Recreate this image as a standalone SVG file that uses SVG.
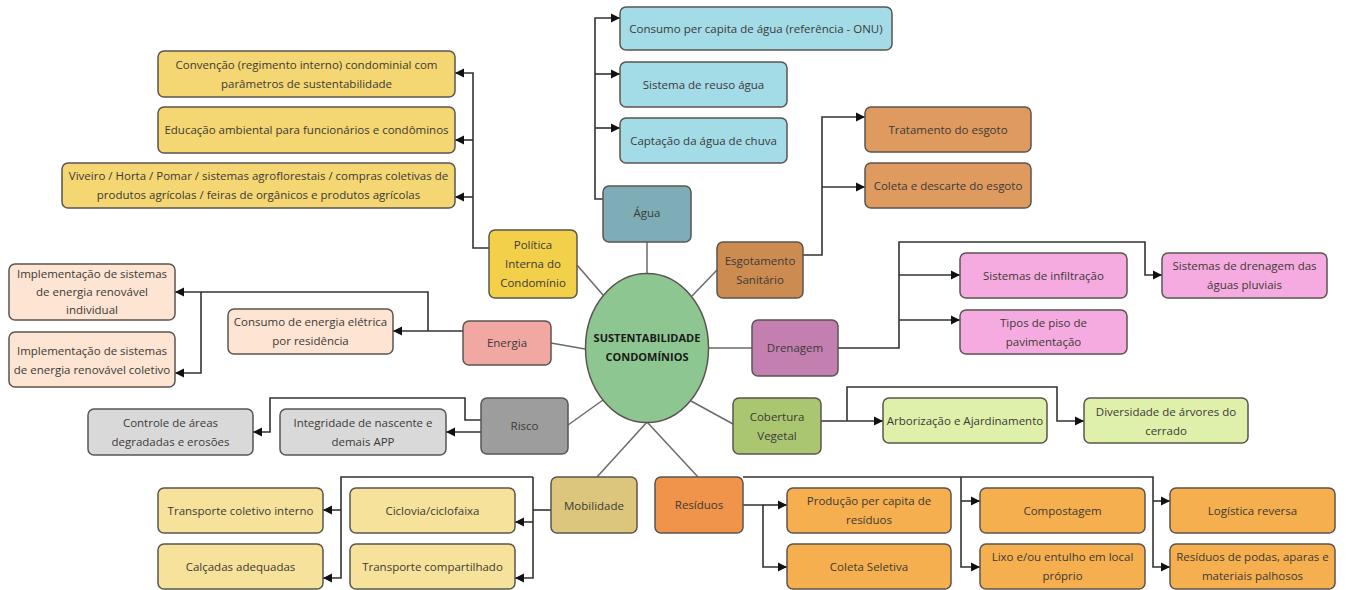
<svg xmlns="http://www.w3.org/2000/svg" width="1346" height="590" viewBox="0 0 1346 590">
<style>
rect{stroke:#5a5550;stroke-width:1.5}
text{font-family:"Open Sans","Liberation Sans",sans-serif;font-size:11.5px;fill:#3c3a36;text-anchor:middle}
.c{fill:none;stroke:#333;stroke-width:1.6}
.s{fill:none;stroke:#6a6a6a;stroke-width:1.5}
.agua{fill:#7eacb7}.aguaC{fill:#a3dbe7}
.pol{fill:#f2d04a}.polC{fill:#f4d672}
.esg{fill:#cc8b51}.esgC{fill:#df9a5f}
.dre{fill:#c47fb1}.dreC{fill:#f5abdf}
.ene{fill:#f1a8a2}.eneC{fill:#fde4d3}
.ris{fill:#9d9d9d}.risC{fill:#d9d9d9}
.mob{fill:#dbc67c}.mobC{fill:#f7e29c}
.res{fill:#f0934b}.resC{fill:#f5af4e}
.cob{fill:#aac671}.cobC{fill:#dff0ab}
</style>
<defs>
<marker id="a" markerUnits="userSpaceOnUse" markerWidth="10" markerHeight="10" refX="9" refY="5" orient="auto">
<path d="M0,0.5 L9,5 L0,9.5 z" fill="#111"/>
</marker>
</defs>
<g id="connectors">
<path class="s" d="M647,242 V273"/>
<path class="s" d="M577,265 L603,295"/>
<path class="s" d="M717,270 L692,296"/>
<path class="s" d="M551,343 L585,349"/>
<path class="s" d="M708,348 H752"/>
<path class="s" d="M568,425 L603,400"/>
<path class="s" d="M733,424 L691,401"/>
<path class="s" d="M597,477 L647,422"/>
<path class="s" d="M698,477 L647,422"/>
<path class="c" d="M603,199 H595 V18 H620" marker-end="url(#a)"/>
<path class="c" d="M595,74 H620" marker-end="url(#a)"/>
<path class="c" d="M595,128 H620" marker-end="url(#a)"/>
<path class="c" d="M489,248 H473 V73 H455" marker-end="url(#a)"/>
<path class="c" d="M473,140 H455" marker-end="url(#a)"/>
<path class="c" d="M473,197 H455" marker-end="url(#a)"/>
<path class="c" d="M803,255 H822 V117 H865" marker-end="url(#a)"/>
<path class="c" d="M822,187 H865" marker-end="url(#a)"/>
<path class="c" d="M838,348 H899 V242 H1145 V275 H1162" marker-end="url(#a)"/>
<path class="c" d="M899,275 H960" marker-end="url(#a)"/>
<path class="c" d="M899,320 H960" marker-end="url(#a)"/>
<path class="c" d="M463,331 H393" marker-end="url(#a)"/>
<path class="c" d="M428,331 V292 H175" marker-end="url(#a)"/>
<path class="c" d="M201,292 V373 H175" marker-end="url(#a)"/>
<path class="c" d="M481,420 H465 V398 H270 V432 H253" marker-end="url(#a)"/>
<path class="c" d="M481,432 H446" marker-end="url(#a)"/>
<path class="c" d="M551,510 H533"/>
<path class="c" d="M533,477 V578 H515" marker-end="url(#a)"/>
<path class="c" d="M533,522 H515" marker-end="url(#a)"/>
<path class="c" d="M533,477 H341 V578 H323" marker-end="url(#a)"/>
<path class="c" d="M341,510 H323" marker-end="url(#a)"/>
<path class="c" d="M743,505 H763 V567 H787" marker-end="url(#a)"/>
<path class="c" d="M763,505 H787" marker-end="url(#a)"/>
<path class="c" d="M743,477 H1153 V567 H1170" marker-end="url(#a)"/>
<path class="c" d="M1153,501 H1170" marker-end="url(#a)"/>
<path class="c" d="M961,477 V567 H980" marker-end="url(#a)"/>
<path class="c" d="M961,501 H980" marker-end="url(#a)"/>
<path class="c" d="M821,421 H883" marker-end="url(#a)"/>
<path class="c" d="M847,421 V387 H1057 V421 H1084" marker-end="url(#a)"/>
</g>
<g id="center">
<ellipse cx="647" cy="348" rx="61.5" ry="74.5" fill="#8dc690" stroke="#5a5550" stroke-width="1.5"/>
<text x="647" y="342" style="font-weight:bold;font-size:11px;fill:#1a1a1a">SUSTENTABILIDADE</text>
<text x="647" y="361" style="font-weight:bold;font-size:11px;fill:#1a1a1a">CONDOMÍNIOS</text>
</g>
<g id="agua"><rect class="agua" x="603" y="186" width="88" height="56" rx="6"/><text x="647" y="217">Água</text></g>
<g id="consumo-agua"><rect class="aguaC" x="620" y="7" width="272" height="43" rx="6"/><text x="756" y="32.5">Consumo per capita de água (referência - ONU)</text></g>
<g id="reuso"><rect class="aguaC" x="620" y="62" width="167" height="45" rx="6"/><text x="703.5" y="88.5">Sistema de reuso água</text></g>
<g id="captacao"><rect class="aguaC" x="620" y="118" width="167" height="45" rx="6"/><text x="703.5" y="144.5">Captação da água de chuva</text></g>
<g id="politica"><rect class="pol" x="489" y="230" width="88" height="68" rx="6"/><text x="533" y="249">Política</text><text x="533" y="268">Interna do</text><text x="533" y="287">Condomínio</text></g>
<g id="convencao"><rect class="polC" x="158" y="51" width="297" height="46" rx="6"/><text x="306.5" y="69">Convenção (regimento interno) condominial com</text><text x="306.5" y="87.5">parâmetros de sustentabilidade</text></g>
<g id="educacao"><rect class="polC" x="158" y="107" width="297" height="46" rx="6"/><text x="306.5" y="134">Educação ambiental para funcionários e condôminos</text></g>
<g id="viveiro"><rect class="polC" x="62" y="163" width="393" height="45" rx="6"/><text x="258.5" y="180">Viveiro / Horta / Pomar / sistemas agroflorestais / compras coletivas de</text><text x="258.5" y="199">produtos agrícolas / feiras de orgânicos e produtos agrícolas</text></g>
<g id="esgotamento"><rect class="esg" x="717" y="242" width="86" height="56" rx="6"/><text x="760" y="265">Esgotamento</text><text x="760" y="284">Sanitário</text></g>
<g id="tratamento"><rect class="esgC" x="865" y="107" width="166" height="45" rx="6"/><text x="948" y="133.5">Tratamento do esgoto</text></g>
<g id="coleta-esgoto"><rect class="esgC" x="865" y="163" width="166" height="45" rx="6"/><text x="948" y="189.5">Coleta e descarte do esgoto</text></g>
<g id="drenagem"><rect class="dre" x="752" y="320" width="86" height="56" rx="6"/><text x="795" y="352">Drenagem</text></g>
<g id="infiltracao"><rect class="dreC" x="960" y="253" width="167" height="45" rx="6"/><text x="1043.5" y="279.5">Sistemas de infiltração</text></g>
<g id="piso"><rect class="dreC" x="960" y="310" width="167" height="44" rx="6"/><text x="1043.5" y="327">Tipos de piso de</text><text x="1043.5" y="345.5">pavimentação</text></g>
<g id="pluviais"><rect class="dreC" x="1162" y="253" width="165" height="45" rx="6"/><text x="1244.5" y="270">Sistemas de drenagem das</text><text x="1244.5" y="289">águas pluviais</text></g>
<g id="energia"><rect class="ene" x="463" y="321" width="88" height="44" rx="6"/><text x="507" y="347">Energia</text></g>
<g id="individual"><rect class="eneC" x="9" y="264" width="166" height="56" rx="6"/><text x="92" y="278">Implementação de sistemas</text><text x="92" y="296">de energia renovável</text><text x="92" y="314">individual</text></g>
<g id="coletivo"><rect class="eneC" x="9" y="332" width="166" height="55" rx="6"/><text x="92" y="355">Implementação de sistemas</text><text x="92" y="373.5">de energia renovável coletivo</text></g>
<g id="consumo-energia"><rect class="eneC" x="228" y="309" width="165" height="45" rx="6"/><text x="310.5" y="326">Consumo de energia elétrica</text><text x="310.5" y="345">por residência</text></g>
<g id="risco"><rect class="ris" x="481" y="398" width="87" height="56" rx="6"/><text x="524.5" y="430">Risco</text></g>
<g id="controle"><rect class="risC" x="88" y="409" width="165" height="46" rx="6"/><text x="170.5" y="427">Controle de áreas</text><text x="170.5" y="446">degradadas e erosões</text></g>
<g id="integridade"><rect class="risC" x="280" y="409" width="166" height="46" rx="6"/><text x="363" y="427">Integridade de nascente e</text><text x="363" y="446">demais APP</text></g>
<g id="cobertura"><rect class="cob" x="733" y="398" width="88" height="56" rx="6"/><text x="777" y="421">Cobertura</text><text x="777" y="440">Vegetal</text></g>
<g id="arborizacao"><rect class="cobC" x="883" y="398" width="164" height="45" rx="6"/><text x="965" y="424.5">Arborização e Ajardinamento</text></g>
<g id="diversidade"><rect class="cobC" x="1084" y="398" width="164" height="45" rx="6"/><text x="1166" y="416">Diversidade de árvores do</text><text x="1166" y="435">cerrado</text></g>
<g id="mobilidade"><rect class="mob" x="551" y="477" width="86" height="56" rx="6"/><text x="594" y="510">Mobilidade</text></g>
<g id="transporte-coletivo"><rect class="mobC" x="158" y="488" width="165" height="45" rx="6"/><text x="240.5" y="514.5">Transporte coletivo interno</text></g>
<g id="calcadas"><rect class="mobC" x="158" y="544" width="165" height="45" rx="6"/><text x="240.5" y="570.5">Calçadas adequadas</text></g>
<g id="ciclovia"><rect class="mobC" x="350" y="488" width="165" height="45" rx="6"/><text x="432.5" y="514.5">Ciclovia/ciclofaixa</text></g>
<g id="compartilhado"><rect class="mobC" x="350" y="544" width="165" height="45" rx="6"/><text x="432.5" y="570.5">Transporte compartilhado</text></g>
<g id="residuos"><rect class="res" x="655" y="477" width="88" height="56" rx="6"/><text x="699" y="509">Resíduos</text></g>
<g id="producao"><rect class="resC" x="787" y="488" width="164" height="45" rx="6"/><text x="869" y="505">Produção per capita de</text><text x="869" y="524">resíduos</text></g>
<g id="coleta-seletiva"><rect class="resC" x="787" y="544" width="164" height="45" rx="6"/><text x="869" y="570.5">Coleta Seletiva</text></g>
<g id="compostagem"><rect class="resC" x="980" y="488" width="165" height="45" rx="6"/><text x="1062.5" y="514.5">Compostagem</text></g>
<g id="lixo"><rect class="resC" x="980" y="544" width="165" height="45" rx="6"/><text x="1062.5" y="561">Lixo e/ou entulho em local</text><text x="1062.5" y="580">próprio</text></g>
<g id="logistica"><rect class="resC" x="1170" y="488" width="165" height="45" rx="6"/><text x="1252.5" y="514.5">Logística reversa</text></g>
<g id="podas"><rect class="resC" x="1170" y="544" width="165" height="45" rx="6"/><text x="1252.5" y="561">Resíduos de podas, aparas e</text><text x="1252.5" y="580">materiais palhosos</text></g>
</svg>
